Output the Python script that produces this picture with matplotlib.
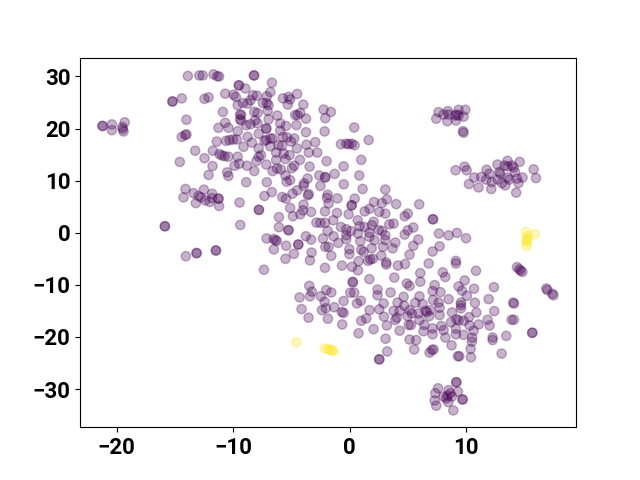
import matplotlib
matplotlib.use("Agg")
import matplotlib.pyplot as plt
import numpy as np

plt.rcParams['font.family'] = ['Roboto', 'DejaVu Sans']
plt.rcParams['font.weight'] = 'bold'
plt.rcParams['font.size'] = 16

# group 0 (dark purple), (x, y) pairs
far_left = [(-21.2,20.5),(-21.2,20.5),(-20.4,20.8),(-20.4,19.7),(-19.3,21.2),(-19.5,20.3),(-19.46,19.9),(-19.4,19.45)]
upper_left = [(-13.88,30.1),(-12.9,30.2),(-12.6,30.2),(-11.67,30.4),(-11.36,30.05),(-11.2,30.0),
 (-15.2,25.2),(-15.2,25.2),(-14.4,25.8),(-12.45,25.7),(-12.1,26.0),(-14.0,21.7),(-14.4,18.4),(-14.1,18.75),(-14.0,18.9),
 (-13.25,15.75),(-14.57,13.6),(-12.45,14.3),(-11.73,15.75),(-11.4,17.5),(-11.76,12.8),(-12.1,11.1),
 (-11.25,20.15),(-10.67,21.1),(-10.4,20.15),(-10.6,17.65),(-10.3,17.8),(-10.0,17.9),(-9.67,17.9),(-9.6,19.5),
 (-11.16,15.1),(-10.96,14.85),(-10.73,14.7),(-10.4,14.6),(-9.6,14.6),(-9.87,12.87),(-9.47,13.25),
 (-10.5,11.6),(-10.4,10.9),(-10.87,23.2),(-10.67,26.7),(-9.96,26.5),(-9.76,26.1),(-9.5,28.3),(-9.5,28.3),(-9.6,24.5),(-9.4,22.7),(-9.4,21.8),(-9.3,21.5)]
upper_mid = [(-8.2,30.2),(-8.2,30.2),(-6.66,28.8),(-8.95,27.7),(-6.8,27.0),(-8.3,26.4),(-7.95,26.3),(-7.1,26.2),(-5.72,25.8),(-5.23,26.1),(-5.1,25.6),(-4.5,26.65),(-5.3,24.6),(-3.97,24.6),
 (-8.5,25.45),(-8.75,24.8),(-9.15,24.9),(-7.43,24.9),(-7.1,24.9),(-6.95,24.5),(-7.03,23.4),(-8.18,23.2),(-7.9,23.0),(-9.3,22.6),(-6.95,21.8),(-8.1,21.6),(-7.9,21),(-8.5,20.85),(-8.87,20.65),
 (-6.2,22.5),(-5.95,21),(-5.46,20.5),(-4.66,22.6),(-4.46,22.6),(-4.23,23),(-3.74,21.9),(-4.56,20.66),(-7.15,20),(-7.15,20),(-7.8,19),(-8.75,18.4),(-5.95,19.6),(-3.74,19.3),
 (-2.23,23.65),(-1.6,23.2),(-2.08,22),(-2.14,19.45),(0.4,20.2),(1.64,17.8),(-0.74,17),(-0.28,17.1),(-0.08,17),(0.18,17.1),(0.43,16.8),(1.0,14),(-2.94,17.4),(-3.7,16.9),(-3.5,15.4),(-2.77,15.4),(-1.97,13.75),(-0.51,12.75),(-3.43,12.7),(-4.26,14),(-4.95,12.4),(-4.75,12.87),(0.83,11),(-1.28,11.3),(-2.6,11),(-2.1,10.6),(-3.6,10.4),
 (-4.52,16.2),(-4.75,18.1),(-5.03,17.5),(-5.37,18.3),(-5.72,18.4),(-6.8,18.1),(-6.6,18.1),(-7.15,17.8),(-7.3,17.65),(-8.38,17.3),(-9.1,16.5),(-7.8,16.2),(-6.8,16.6),(-6.1,16.8),(-5.8,16.7),(-6.3,15.4),(-5.66,15.2),(-5.15,14.9),(-7.6,14.9),(-7.8,14.6),(-8,13.75),(-6.3,13.95),(-5.5,14.15),(-7.15,13.1),(-8.8,12.87),(-8.18,11.85),(-6.6,11.85),(-6.23,12.35),(-5.9,12.15),(-5.5,11),(-5.1,10.1),(-7.1,9.7),(-8.87,9.7),(-3.9,9.5),(-0.5,9.3),(-5.4,9.8)]
upper_right = [(7.64,23.15),(7.44,21.9),(8.44,23.35),(8.07,22.7),(8.5,22.7),(8.39,21.43),(9.13,21.55),(9.36,23.6),(9.93,23.6),(9.79,22.3),(9.2,22.7),(9.36,22.5),(9.07,22.5),(9.73,19.5),(9.79,19.2),
 (9.1,12),(9.87,12.7),(10.05,12),(10.7,10.6),(11.3,10.7),(11.76,12.1),(12,11.3),(11.73,10.2),(12.2,9.74),(10.25,9.35),(11.07,8.7),(12.16,8.4),(12.7,13.1),(13.56,13.8),(14.6,13.6),(13.3,12.9),(13.56,12.74),(12.85,11.65),(12.93,11.3),(12.7,10.2),(13.08,9.55),(13.36,9.1),(13.56,10.6),(13.7,10.2),(14.08,12.5),(14.2,11.65),(14.37,10.4),(14.85,10.6),(14.5,9.55),(14.3,7.7),(15.8,12.17),(16,10.5),(13.94,12.9),(5.98,5.46)]
mid_left = [(-14.08,8.4),(-14.25,6.8),(-13.39,7.6),(-13.19,5.7),(-12.96,7.06),(-12.76,6.8),(-12.5,8.27),(-12.39,6.23),(-12,5.9),(-11.8,7.5),(-11.8,6.65),(-11.25,6.55),(-11.25,6.55),(-11.2,5.15),
 (-9.44,5.8),(-7.3,7.06),(-6.67,7.8),(-5.78,6.87),(-5.46,6.55),(-4.9,7.5),(-4.5,8.15),(-3.95,9),(-3.5,7.4),(-3.58,7.2),(-7.78,4.4),(-7.78,4.4),(-5.1,4.76),(-3.95,5.4),(-4,4.3),(-4.23,3.55),(-3.3,4),(-4.86,3.17),(-6.06,3),(-9.38,1.5),(-6.06,1.06),(-5.24,0.5),(-5.24,0.5),(-3.75,-0.67),(-3.3,-1.3),(-7.12,-1.1),(-6.52,-1.2),(-6.35,-1.43),(-6.24,-1.56),(-6.5,-3.2),(-5.44,-2.5),(-4.4,-2.26),(-4.4,-2.26),(-4.78,-4.05),(-5.5,-5),(-3.26,-3.8),(-3.4,-5.3),(-7.35,-7.1),
 (-15.85,1.25),(-15.85,1.25),(-14.05,-4.5),(-13.13,-3.9),(-13.13,-3.9),(-11.47,-3.4),(-11.47,-3.4)]
center = [(-2.5,9),(-2.08,10.7),(1.12,8.4),(3.07,8.3),(-1.88,7.3),(-1.94,6.7),(-1.8,5.6),(-1.05,6.6),(0.44,6.55),(0.18,5.27),(0.18,5.27),(2.1,5.9),(1.72,4.6),(1.3,4.1),(3.2,6.4),(2.78,5.7),(4.0,5.5),(2.55,4),(3.07,3.68),(5,3.68),(4.73,3.17),(-2.11,4.1),(-1.08,3.8),(-0.08,3.55),(0.7,2.4),(-1.4,2.4),(-2.11,1.9),(-2.85,1.95),(-2.5,1.9),(-0.74,1.1),(-0.28,0.68),(0.12,0.3),(0.86,1.25),(1.3,1.1),(2.07,2.1),(1.92,1.44),(2.5,0.5),(3.41,1.63),(3.78,1.76),(2.78,0.35),(-1.88,0.35),(-2.28,-1.1),(-1.37,-0.67),(-0.97,-1.94),(-0.28,-0.47),(-0.28,-1.24),(0.72,-0.15),(1.7,0.04),(1.7,-0.8),(0.92,-1.62),(2.15,-1.43),(3.07,-0.47),(3.07,-1.43),(3.93,-1.88),(3.7,-3),(2.87,-2.7),(1.9,-2.96),(1,-3.28),(1.21,-3.67),(-0.02,-3.16),(-0.02,-4.1),(-2.08,-2.7),(-1.8,-2.7),(-1.57,-4.43),(-2.11,-6.73),(-0.65,-6.3),(0.21,-6.54),(0.78,-5.45),(0.72,-7.2),(1.58,-5.4),(1.78,-5.13),(2,-5),(2.72,-4.4),(3.15,-5.7),(3.15,-6.1),(4.15,-6.3),(4.76,-6),(5.15,-4.2),(6.79,-5.9),(7.13,-3.6),(7.73,-2.6),(5.47,-2.5),(5.9,-1.3),(4.73,-0.35),(5,0.48),(5.47,1),(7.67,-0.15),(8.5,-0.5),(9.22,-0.03),(10,-1.05),(7.16,2.59),(7.16,2.59),(9.13,-5.4),(9.13,-5.9),(6.07,-7.75),(8,-7.6),(8.22,-8.5),(10.85,-7.3),(1.7,-8.9),(3.84,-8.6),(0.26,-9.4)]
lower_mid = [(-3.46,-10.2),(-3.23,-11.3),(-4.29,-12.4),(-3.4,-12.2),(-2.46,-12.2),(-2,-11),(-1.57,-11.46),(-2.14,-13.25),(-2.37,-14.85),(-2.03,-14.5),(-4.12,-14.65),(-3.52,-16.3),(-1.86,-16.5),(-1.31,-14.3),(-0.66,-15.2),(-0.51,-15.4),(-0.63,-17.6),(-0.51,-13.1),(0.77,-19.3),(1,-16.9),(1.43,-16.45),(2.06,-18.5),(1.72,-14.85),(2.55,-14.7),(2.95,-16.1),(3.2,-17.8),(3.09,-20.34),(3.23,-22.8),(2.55,-24.3),(2.55,-24.3),(0.63,-13.57),(0.97,-13.06),(2.92,-13.57),(3.52,-11.46),(2.4,-10.9),(2.4,-12),(0.06,-11.5),(0.4,-11.5),(0.29,-9.55),(4.3,-18.8),(3.78,-15),(4.12,-13.4),(4.64,-12.3),(4.69,-14),(4.3,-15),(4.06,-16.3),(3.92,-16.76),(5.15,-20.5),(5.72,-20.6),(5.55,-22.4),(6.87,-23),(7.07,-22.5),(7.21,-22.4),(4.92,-9.74),(5.15,-10.2),(6.07,-9.4),(6,-12.2),(5.64,-13.44),(6.27,-13.7),(5.15,-14.85),(5.35,-15.5),(4.98,-16),(5.92,-15.5),(6,-16.76),(5.07,-17.7),(5.27,-17.7),(6.41,-17.7),(6.35,-18.9),(6.64,-15.2),(6.84,-16),(6.5,-15),(6.93,-14.85)]
lower_right = [(9.88,-9.16),(9.36,-10.3),(9.65,-11.1),(10.07,-12.1),(10.68,-10.75),(12.39,-10.44),(11.94,-12.74),(12.42,-15.04),(10.76,-13.44),(10.88,-15.3),(10.25,-16.2),(11.85,-16.7),(12.02,-17.8),(11.08,-17.6),(10.3,-17.8),(9.79,-16.9),(9.36,-16.8),(9.16,-16.6),(8.79,-15.3),(8.7,-17.2),(9.56,-13.4),(9.56,-13.9),(9.56,-14.5),(8.5,-12.75),(7.3,-10.06),(7.13,-11.2),(7.8,-11.4),(7.16,-12.9),(7.64,-13.4),(7.73,-14.4),(7.73,-15.8),(7.13,-18.36),(7.13,-19.5),(7.87,-17.9),(8.07,-18.7),(8.22,-20.1),(9.13,-18.4),(9.13,-19.5),(9.79,-19.6),(8.76,-21.6),(10.65,-18.8),(10.53,-20.15),(10.5,-20.9),(10.39,-22.3),(10.42,-23.9),(9.3,-23.7),(9.42,-23.7),(12.28,-20.1),(12.28,-20.6),(13.45,-19.8),(13.05,-23.2),(14.05,-13.4),(14.11,-13.6),(13.91,-16.7),(14.11,-16.7),(15.68,-19.2),(15.68,-19.2),(14.37,-6.6),(14.57,-7),(14.68,-7.3),(14.83,-7.5),(16.89,-10.7),(16.97,-11),(17.4,-11.7),(17.5,-12)]
bottom_cluster = [(9.16,-28.7),(9.16,-28.7),(7.59,-29.85),(7.36,-30.8),(9.3,-30.5),(8.07,-31.45),(8.5,-30.2),(8.65,-30.8),(8.42,-31.3),(8.3,-31.8),(8.79,-31.45),(9.7,-32),(9.7,-32),(7.3,-32.2),(7.44,-33.2),(8.47,-32.5),(8.9,-34.1)]

# group 1 (yellow)
yellow = [(-4.55,-21.04),(-2.14,-22.2),(-1.86,-22.3),(-1.66,-22.45),(-1.5,-22.6),(-1.37,-22.7),
 (15.14,0.16),(15.91,-0.29),(15.31,-0.6),(15.23,-1.12),(15.2,-1.44),(15.23,-1.76),(15.2,-2.52)]

purple = far_left + upper_left + upper_mid + upper_right + mid_left + center + lower_mid + lower_right + bottom_cluster
points = np.array(purple + yellow)
labels = np.array([0] * len(purple) + [1] * len(yellow))

fig, ax = plt.subplots(figsize=(6.4, 4.8), dpi=100)
ax.scatter(points[:, 0], points[:, 1], c=labels, cmap='viridis', alpha=0.3, s=45)
fig.savefig('out.png', dpi=100)
